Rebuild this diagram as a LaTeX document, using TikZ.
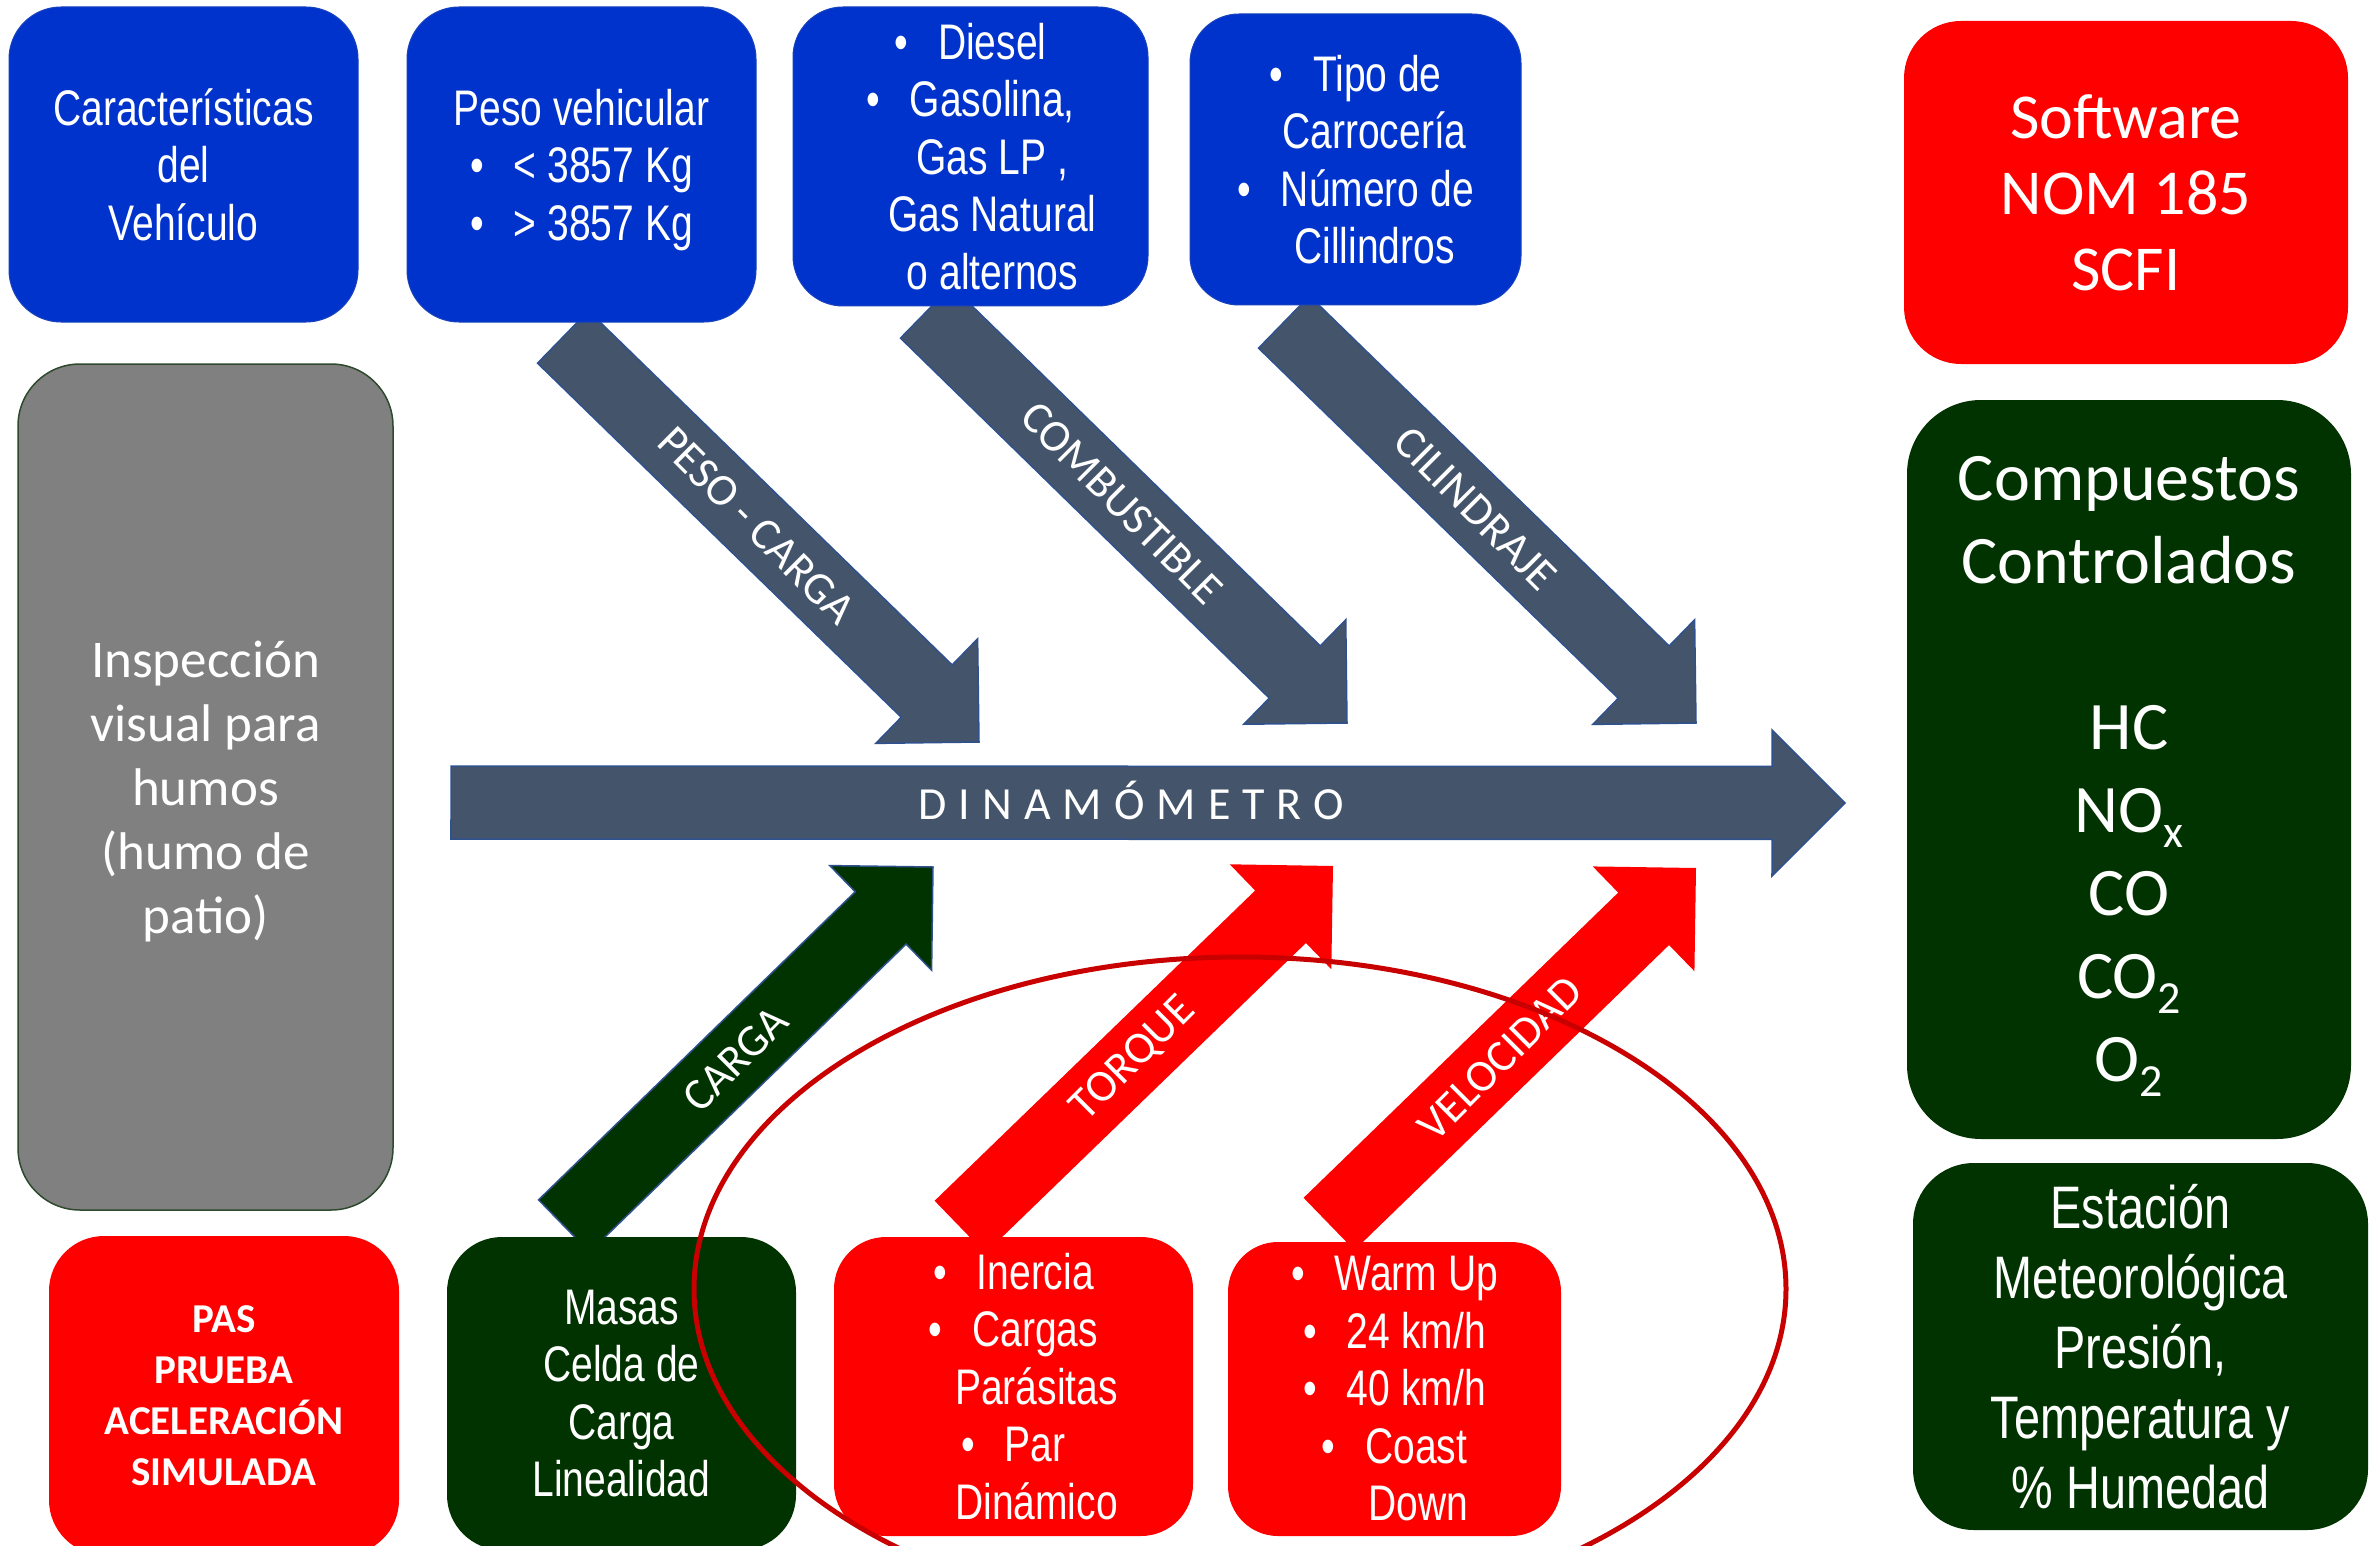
\documentclass[tikz,border=0pt]{standalone}
\usepackage{fontspec}
\setmainfont{Carlito}
\newfontfamily\narrowfont{Liberation Sans}[FakeStretch=0.78]
\usetikzlibrary{calc,shapes.geometric}
\definecolor{boxblue}{HTML}{0033CC}
\definecolor{boxred}{HTML}{FF0000}
\definecolor{boxgreen}{HTML}{003300}
\definecolor{boxgray}{HTML}{808080}
\definecolor{slate}{HTML}{44546A}
\definecolor{edgeblue}{HTML}{2F528F}
\definecolor{ringred}{HTML}{C80000}
\definecolor{grayedge}{HTML}{2E4A2E}
\newcommand{\nfnt}[2]{\narrowfont\fontsize{#1}{#2}\selectfont}
\newcommand{\cfnt}[2]{\fontsize{#1}{#2}\selectfont}
\newcommand{\chemsub}[1]{\raisebox{-15pt}[0pt][0pt]{\fontsize{46}{46}\selectfont #1}}
\newcommand{\bul}{•\hspace{30pt}}
\newcommand{\nodepth}[1]{\raisebox{0pt}[\height][0pt]{#1}}
% block arrow: style, start coordinate, tip coordinate
\newcommand{\blockarrow}[3]{%
  \coordinate (#2h) at ($(#3)!73pt!(#2)$);
  \path[#1] ($(#2)!36.5pt!90:(#3)$) -- ($(#2h)!36.5pt!90:(#3)$)
    -- ($(#2h)!73pt!90:(#3)$) -- (#3) -- ($(#2h)!73pt!-90:(#3)$)
    -- ($(#2h)!36.5pt!-90:(#3)$) -- ($(#2)!36.5pt!-90:(#3)$) -- cycle;
}
\begin{document}
\begin{tikzpicture}[x=1pt,y=-1pt,
  box/.style={inner sep=0pt, text=white, align=center},
  bluebox/.style={box, fill=boxblue, draw=boxblue!80!gray, line width=1pt},
  redbox/.style={box, fill=boxred},
  greenbox/.style={box, fill=boxgreen},
  graybox/.style={box, fill=boxgray, draw=grayedge, line width=1.5pt},
  slatearrow/.style={fill=slate, draw=edgeblue, line width=1.5pt},
  greenarrow/.style={fill=boxgreen, draw=edgeblue, line width=1.5pt},
  redarrow/.style={fill=boxred},
  arrlabel/.style={text=white, inner sep=0pt, font=\cfnt{45}{54}},
  ring/.style={draw=ringred, line width=5pt, ellipse, inner sep=0pt}]
\path[use as bounding box, fill=white] (0,0) rectangle (2377,1546);
\clip (0,0) rectangle (2377,1546);

% coordinates of arrows
\coordinate (sPeso) at (563,337);   \coordinate (tPeso) at (979,742);
\coordinate (sComb) at (926,312);   \coordinate (tComb) at (1347,723);
\coordinate (sCil)  at (1284,322);  \coordinate (tCil)  at (1696,723);
\coordinate (sCarga) at (564,1226); \coordinate (tCarga) at (933,867);
\coordinate (sTorq) at (960,1227);  \coordinate (tTorq) at (1333,866);
\coordinate (sVel)  at (1329,1224); \coordinate (tVel)  at (1696,868);
\coordinate (sDin)  at (451,802.5); \coordinate (tDin)  at (1845,803);

% arrows
\blockarrow{slatearrow}{sPeso}{tPeso}
\blockarrow{slatearrow}{sComb}{tComb}
\blockarrow{slatearrow}{sCil}{tCil}
\blockarrow{greenarrow}{sCarga}{tCarga}
\blockarrow{redarrow}{sTorq}{tTorq}
\blockarrow{redarrow}{sVel}{tVel}
\blockarrow{slatearrow}{sDin}{tDin}

% top boxes
\node[bluebox, minimum width=349pt, minimum height=315pt, rounded corners=52pt, font=\nfnt{50}{57.5}]
  (caract) at (183.5,164.5) {Características\\del\\Vehículo};
\node[bluebox, minimum width=349pt, minimum height=315pt, rounded corners=52pt, font=\nfnt{50}{57.5}]
  (peso) at (581.5,164.5) {Peso vehicular\\\bul< 3857 Kg\\\nodepth{\bul> 3857 Kg}};
\node[bluebox, minimum width=355pt, minimum height=299pt, rounded corners=50pt, font=\nfnt{50}{57.5}]
  (comb) at (970.5,156.5) {\bul Diesel\\\bul Gasolina,\\\hspace*{44pt}Gas LP ,\\\hspace*{44pt}Gas Natural\\\hspace*{44pt}o alternos};
\node[bluebox, minimum width=331pt, minimum height=291pt, rounded corners=49pt, font=\nfnt{50}{57.5}]
  (carro) at (1355.5,159.5) {\bul Tipo de\\\hspace*{38pt}Carrocería\\\bul Número de\\\hspace*{38pt}Cillindros};

% right column
\node[redbox, minimum width=444pt, minimum height=343pt, rounded corners=57pt, font=\cfnt{64}{76}]
  (soft) at (2126,192.5) {Software\\NOM 185\\SCFI};
\node[greenbox, minimum width=444pt, minimum height=739pt, rounded corners=74pt, font=\cfnt{68}{83}]
  (comp) at (2129,769.5) {Compuestos\\Controlados\\[83pt]HC\\NO\chemsub{x}\\CO\\CO\chemsub{2}\\O\chemsub{2}};
\node[greenbox, minimum width=455pt, minimum height=367pt, rounded corners=61pt, font=\nfnt{60}{70}]
  (estac) at (2140.5,1346.5) {Estación\\Meteorológica\\Presión,\\Temperatura y\\\% Humedad};

% left gray box
\node[graybox, minimum width=375pt, minimum height=846pt, rounded corners=62pt, font=\cfnt{53}{64}]
  (insp) at (205.5,787) {Inspección\\visual para\\humos\\(humo de\\\nodepth{patio)}};

% bottom boxes
\node[redbox, minimum width=350pt, minimum height=319pt, rounded corners=55pt, font=\bfseries\cfnt{41}{51}]
  (pas) at (224,1395.5) {PAS\\PRUEBA\\ACELERACIÓN\\SIMULADA};
\node[greenbox, minimum width=349pt, minimum height=313pt, rounded corners=55pt, font=\nfnt{50}{57.5}]
  (masas) at (621.5,1393.5) {Masas\\Celda de\\Carga\\Linealidad};
\node[redbox, minimum width=359pt, minimum height=299pt, rounded corners=52pt, font=\nfnt{50}{57.5}]
  (inercia) at (1013.5,1386.5) {\bul Inercia\\\bul Cargas\\\hspace*{46pt}Parásitas\\\bul Par\\\hspace*{46pt}Dinámico};
\node[redbox, minimum width=333pt, minimum height=294pt, rounded corners=50pt, font=\nfnt{50}{57.5}]
  (warm) at (1394.5,1389) {\bul Warm Up\\\bul 24 km/h\\\bul 40 km/h\\\bul Coast\\\hspace*{48pt}Down};

% arrow labels
\node[arrlabel, rotate=-45] (lPeso) at ($(sPeso)!0.465!(tPeso)$) {PESO - CARGA};
\node[arrlabel, rotate=-45] (lComb) at ($(sComb)!0.465!(tComb)$) {COMBUSTIBLE};
\node[arrlabel, rotate=-45] (lCil)  at ($(sCil)!0.465!(tCil)$) {CILINDRAJE};
\node[arrlabel, rotate=45] (lCarga) at ($(sCarga)!0.465!(tCarga)$) {CARGA};
\node[arrlabel, rotate=45] (lTorq)  at ($(sTorq)!0.465!(tTorq)$) {TORQUE};
\node[arrlabel, rotate=45] (lVel)   at ($(sVel)!0.465!(tVel)$) {VELOCIDAD};
\node[arrlabel, font=\cfnt{46}{54}, anchor=base] (lDin) at (1131.5,819)
  {D\kern12pt I\kern12pt N\kern12pt A\kern12pt M\kern12pt Ó\kern12pt M\kern12pt E\kern12pt T\kern12pt R\kern12pt O};

% ring
\node[ring, minimum width=1092pt, minimum height=664pt] (ringnode) at (1240,1289) {};
\end{tikzpicture}
\end{document}
